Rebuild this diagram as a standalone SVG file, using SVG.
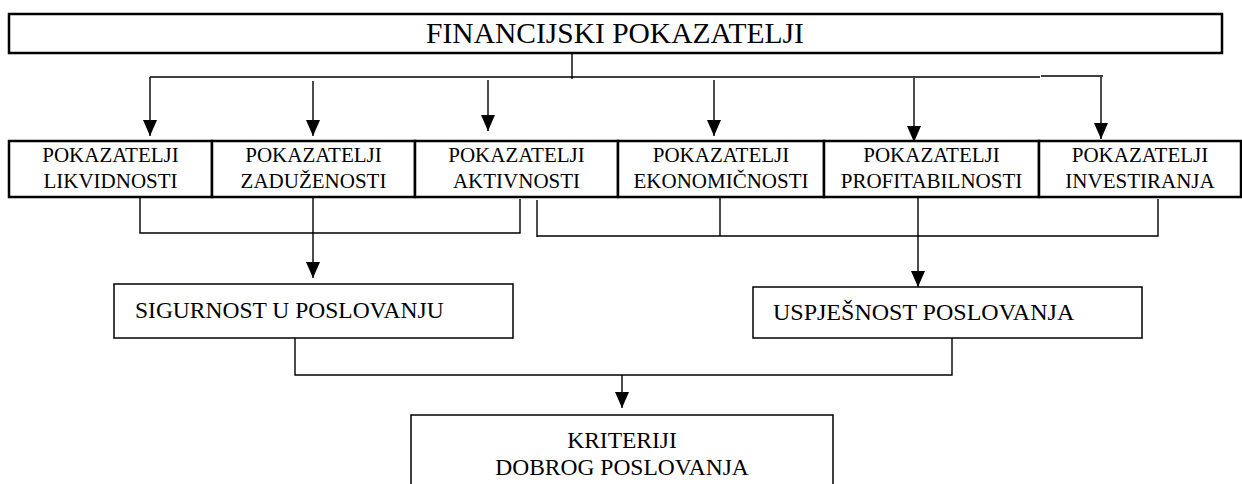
<svg xmlns="http://www.w3.org/2000/svg" width="1242" height="484" viewBox="0 0 1242 484">
<style>
text{font-family:"Liberation Serif","Times New Roman",serif;fill:#000}
.t1{font-size:29.5px}
.t2{font-size:21px}
.t3{font-size:23.5px}
.box{fill:#fff;stroke:#000;stroke-width:2.5}
.box2{fill:#fff;stroke:#000;stroke-width:1.5}
.ln{fill:none;stroke:#000;stroke-width:1.4}
.ar{fill:none;stroke:#000;stroke-width:1.4;marker-end:url(#ah)}
</style>
<defs>
<marker id="ah" markerUnits="userSpaceOnUse" markerWidth="18" markerHeight="16" refX="16" refY="7" orient="auto">
<path d="M0,0 L16,7 L0,14 z" fill="#000"/>
</marker>
</defs>
<g id="connectors">
<path class="ln" d="M572,53 V79"/>
<path class="ln" d="M150,77 H1040"/>
<path class="ln" d="M1041,76 H1103"/>
<path class="ar" d="M150,77 V136"/>
<path class="ar" d="M313,81 V136"/>
<path class="ar" d="M488,80 V131"/>
<path class="ar" d="M714,80 V136"/>
<path class="ar" d="M914,78 V142"/>
<path class="ar" d="M1101,77 V139"/>
<path class="ln" d="M140,198 V233 H520 V199"/>
<path class="ar" d="M313,198 V278"/>
<path class="ln" d="M537,200 V237"/>
<path class="ln" d="M537,236 H1158 V199"/>
<path class="ln" d="M720,198 V236"/>
<path class="ar" d="M918,198 V287"/>
<path class="ln" d="M295,338 V375 H952 V338"/>
<path class="ar" d="M622,375 V408"/>
</g>
<g id="n-financijski">
<rect class="box" x="9" y="14" width="1213" height="39"/>
<text class="t1" x="615" y="43" text-anchor="middle">FINANCIJSKI POKAZATELJI</text>
</g>
<g id="n-likvidnost">
<rect class="box" x="9" y="141" width="203" height="56"/>
<text class="t2" x="110.5" y="162" text-anchor="middle">POKAZATELJI</text>
<text class="t2" x="110.5" y="188" text-anchor="middle">LIKVIDNOSTI</text>
</g>
<g id="n-zaduzenost">
<rect class="box" x="212" y="141" width="203" height="56"/>
<text class="t2" x="313.5" y="162" text-anchor="middle">POKAZATELJI</text>
<text class="t2" x="313.5" y="188" text-anchor="middle">ZADUŽENOSTI</text>
</g>
<g id="n-aktivnost">
<rect class="box" x="415" y="141" width="203" height="56"/>
<text class="t2" x="516.5" y="162" text-anchor="middle">POKAZATELJI</text>
<text class="t2" x="516.5" y="188" text-anchor="middle">AKTIVNOSTI</text>
</g>
<g id="n-ekonomicnost">
<rect class="box" x="618" y="141" width="206" height="56"/>
<text class="t2" x="721" y="162" text-anchor="middle">POKAZATELJI</text>
<text class="t2" x="721" y="188" text-anchor="middle">EKONOMIČNOSTI</text>
</g>
<g id="n-profitabilnost">
<rect class="box" x="824" y="141" width="215" height="56"/>
<text class="t2" x="931.5" y="162" text-anchor="middle">POKAZATELJI</text>
<text class="t2" x="931.5" y="188" text-anchor="middle">PROFITABILNOSTI</text>
</g>
<g id="n-investiranje">
<rect class="box" x="1039" y="141" width="202" height="56"/>
<text class="t2" x="1140" y="162" text-anchor="middle">POKAZATELJI</text>
<text class="t2" x="1140" y="188" text-anchor="middle">INVESTIRANJA</text>
</g>
<g id="n-sigurnost">
<rect class="box2" x="114" y="284" width="399" height="54"/>
<text class="t3" x="135" y="318">SIGURNOST U POSLOVANJU</text>
</g>
<g id="n-uspjesnost">
<rect class="box2" x="753" y="287" width="389" height="51"/>
<text class="t3" x="773" y="320" style="font-size:24px">USPJEŠNOST POSLOVANJA</text>
</g>
<g id="n-kriteriji">
<rect class="box2" x="411" y="415" width="422" height="80"/>
<text class="t3" x="622" y="448" text-anchor="middle">KRITERIJI</text>
<text class="t3" x="622" y="475" text-anchor="middle">DOBROG POSLOVANJA</text>
</g>
</svg>
